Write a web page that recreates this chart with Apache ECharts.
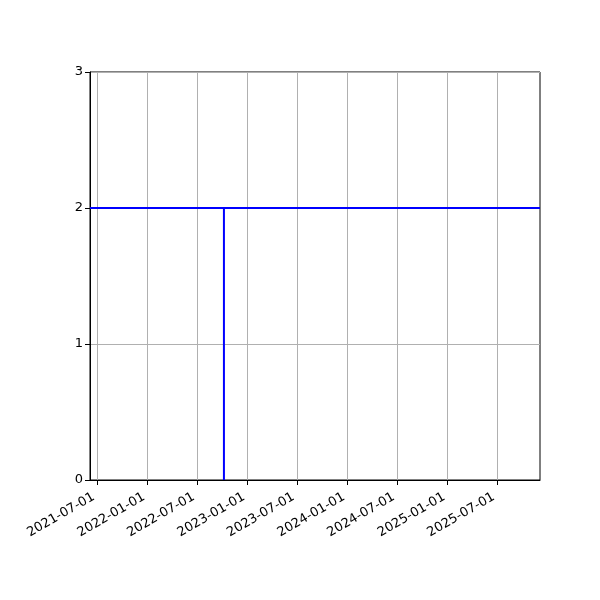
<!DOCTYPE html>
<html>
<head>
<meta charset="utf-8">
<script src="https://cdn.jsdelivr.net/npm/echarts@6/dist/echarts.min.js"></script>
<style>html,body{margin:0;padding:0;background:#fff}#c{width:600px;height:600px}</style>
</head>
<body>
<div id="c"></div>
<script>
const tickLabels = ['2021-07-01','2022-01-01','2022-07-01','2023-01-01','2023-07-01','2024-01-01','2024-07-01','2025-01-01','2025-07-01'];
const xRange = ['2021-06-05','2025-12-04'];
const yTicks = [0,1,2,3];
const hLineX = ['2021-06-05','2025-12-04'];
const hLineY = [2,2];
const vLineX = ['2022-10-07','2022-10-07'];
const vLineY = [0,2];

function toMs(s){const p=s.split('-').map(Number);return Date.UTC(p[0],p[1]-1,p[2]);}
function fmt(ms){const d=new Date(ms);const pad=n=>String(n).padStart(2,'0');return d.getUTCFullYear()+'-'+pad(d.getUTCMonth()+1)+'-'+pad(d.getUTCDate());}
const tickMs = tickLabels.map(toMs);

const chart = echarts.init(document.getElementById('c'), null, {renderer:'canvas'});
const font = 'DejaVu Sans';
chart.setOption({
  animation:false,
  grid:{left:90,right:60,top:72,bottom:120,show:true,borderColor:'#000',borderWidth:1,backgroundColor:'transparent'},
  xAxis:{
    type:'value',
    min:toMs(xRange[0]), max:toMs(xRange[1]),
    axisLine:{show:true,onZero:false,lineStyle:{color:'#000',width:1}},
    axisTick:{show:true,customValues:tickMs,length:5,lineStyle:{color:'#000'}},
    axisLabel:{customValues:tickMs,rotate:30,formatter:v=>fmt(v),color:'#000',fontFamily:font,fontSize:13,margin:14,padding:[0,4,0,0]},
    splitLine:{show:true,lineStyle:{color:'#b0b0b0',width:1}}
  },
  yAxis:{
    type:'value',min:yTicks[0],max:yTicks[yTicks.length-1],interval:1,
    axisLine:{show:true,lineStyle:{color:'#000',width:1}},
    axisTick:{show:true,length:5,lineStyle:{color:'#000'}},
    axisLabel:{color:'#000',fontFamily:font,fontSize:13,margin:7},
    splitLine:{show:true,lineStyle:{color:'#b0b0b0',width:1}}
  },
  series:[
    {type:'line',data:hLineX.map((x,i)=>[toMs(x),hLineY[i]]),showSymbol:false,lineStyle:{color:'#0000ff',width:2},clip:true,z:3},
    {type:'line',data:vLineX.map((x,i)=>[toMs(x),vLineY[i]]),showSymbol:false,lineStyle:{color:'#0000ff',width:2},clip:true,z:3}
  ]
});
</script>
</body>
</html>
